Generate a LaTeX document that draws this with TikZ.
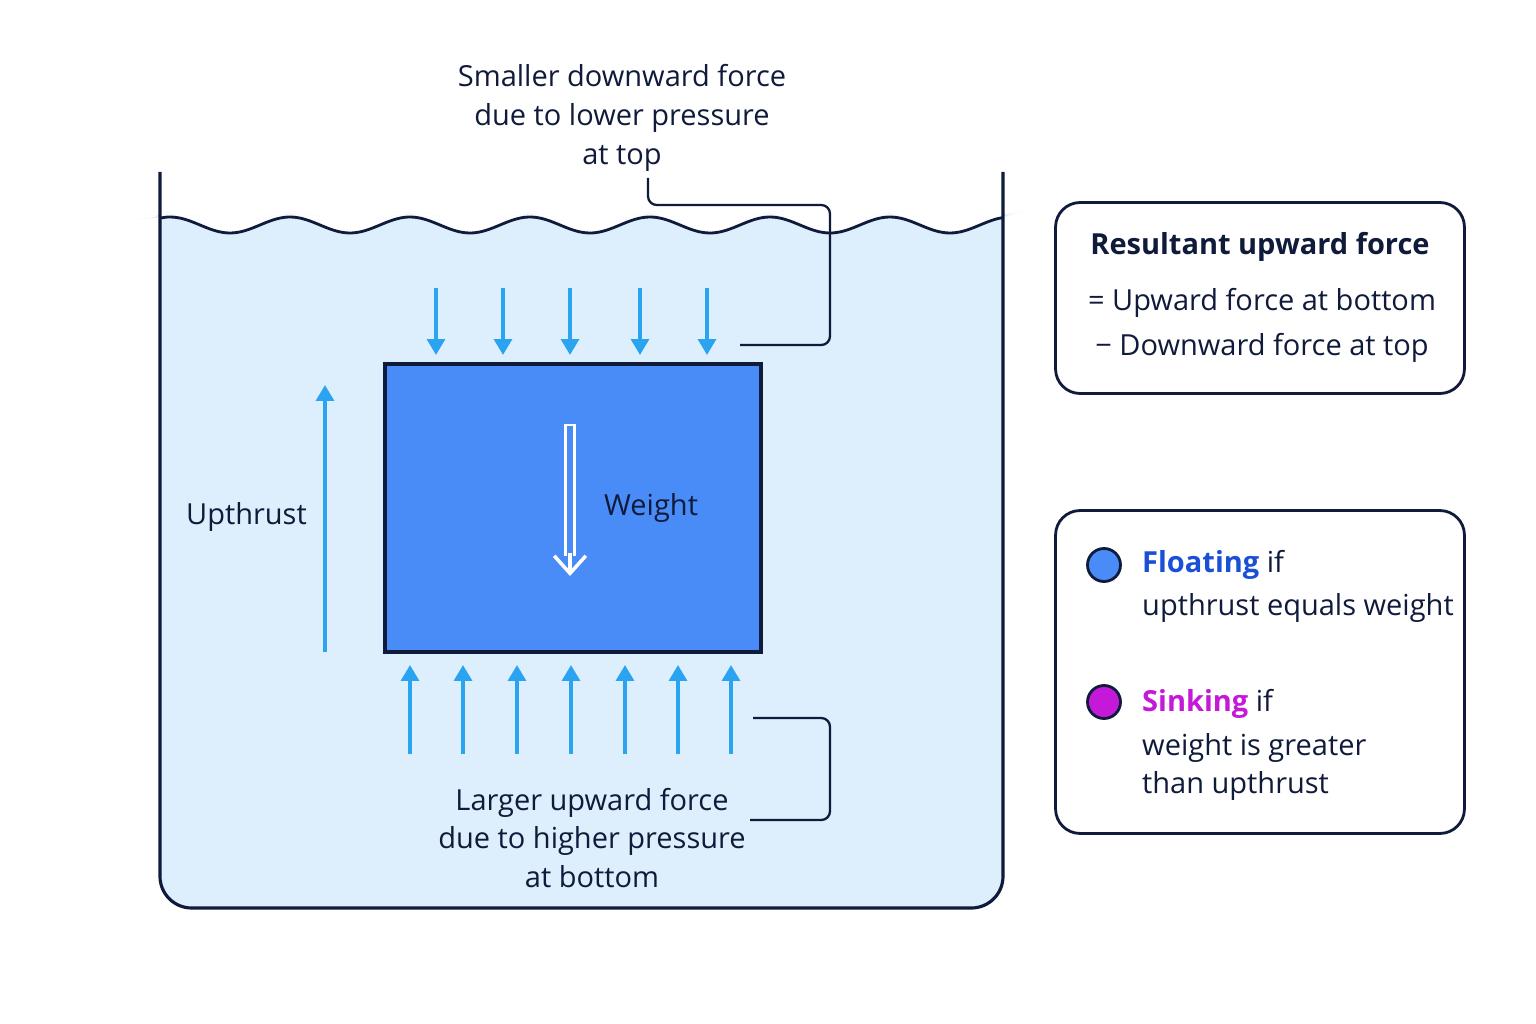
\documentclass[tikz,border=0pt]{standalone}
\usepackage{fontspec}
\setmainfont{Open Sans}
\usetikzlibrary{positioning}
\usetikzlibrary{arrows.meta}
\definecolor{navy}{HTML}{101A3A}
\definecolor{water}{HTML}{DDEEFC}
\definecolor{block}{HTML}{4A8CF7}
\definecolor{force}{HTML}{2AA3F0}
\definecolor{floatc}{HTML}{1A4FD6}
\definecolor{sinkc}{HTML}{C419D9}
\tikzstyle{label}=[text=navy, font=\fontsize{16.5}{22}\selectfont, align=center]
\tikzstyle{panel}=[draw=navy, line width=1.6pt, rounded corners=14pt, fill=white]
\tikzstyle{force arrow}=[force, line width=2.2pt, -{Triangle[length=9pt,width=10pt]}]
\tikzstyle{leader}=[navy, line width=1.3pt, rounded corners=5pt]

\begin{document}
\begin{tikzpicture}[x=0.02cm, y=-0.02cm]
    \useasboundingbox [fill=white] (0,0) rectangle (1536,1024);

    % water and tank
    \fill [water, rounded corners=18pt] plot [domain=160:1003, samples=120, smooth] (\x, {225+8*cos(3*(\x-230))})
      -- (1003,908) -- (160,908) -- cycle;
    \draw [navy, line width=1.6pt] plot [domain=160:1003, samples=120, smooth] (\x, {225+8*cos(3*(\x-230))});
    \draw [navy, line width=1.8pt, rounded corners=18pt] (160,172) -- (160,908) -- (1003,908) -- (1003,172);

    % block and forces
    \node [draw=navy, line width=1.8pt, fill=block, minimum width=7.52cm, minimum height=5.76cm] (block) at (573,508) {};
    \foreach \x in {436,503,570,640,707}
    \draw [force arrow] (\x,288) -- (\x,355);
    \foreach \x in {410,463,517,571,625,678,731}
    \draw [force arrow] (\x,754) -- (\x,665);
    \draw [force arrow] (325,652) -- (325,385);
    \node [label, anchor=west] (upthrust) at (180,517) {Upthrust};

    \draw [white, line width=7pt] (570,424) -- (570,556);
    \draw [block, line width=3.6pt] (570,426) -- (570,556);
    \draw [white, line width=2pt, -{Straight Barb[length=10pt,width=18pt]}] (570,553) -- (570,576);
    \node [label, anchor=west] (weight) at (598,508) {Weight};

    % callouts
    \node [label] (toptext) at (622,118) {Smaller downward force\\due to lower pressure\\at top};
    \draw [leader] (648,178) -- (648,205) -- (830,205) -- (830,345) -- (740,345);
    \node [label] (bottomtext) at (592,838) {Larger upward force\\due to higher pressure\\at bottom};
    \draw [leader] (753,718) -- (830,718) -- (830,820) -- (750,820);

    % resultant panel
    \node [panel, minimum width=8.18cm, minimum height=3.82cm] (resultant) at (1260,298) {};
    \node [label, font=\fontsize{16.5}{22}\selectfont\bfseries] (restitle) at (1260,247) {Resultant upward force};
    \node [label] (resline1) at (1262,303) {= Upward force at bottom};
    \node [label] (resline2) at (1262,348) {− Downward force at top};

    % floating / sinking panel
    \node [panel, minimum width=8.18cm, minimum height=6.46cm] (legend) at (1260,672) {};
    \node [circle, draw=navy, line width=1.6pt, fill=block, minimum size=0.66cm] (floatdot) at (1104,565) {};
    \node [label, anchor=west] (floattext) at (1136,565) {\textcolor{floatc}{\bfseries Floating} if};
    \node [label, anchor=west] (floatline) at (1136,608) {upthrust equals weight};
    \node [circle, draw=navy, line width=1.6pt, fill=sinkc, minimum size=0.66cm] (sinkdot) at (1104,702) {};
    \node [label, anchor=west] (sinktext) at (1136,704) {\textcolor{sinkc}{\bfseries Sinking} if};
    \node [label, anchor=west, align=left] (sinkline) at (1136,767) {weight is greater\\than upthrust};
\end{tikzpicture}
\end{document}
